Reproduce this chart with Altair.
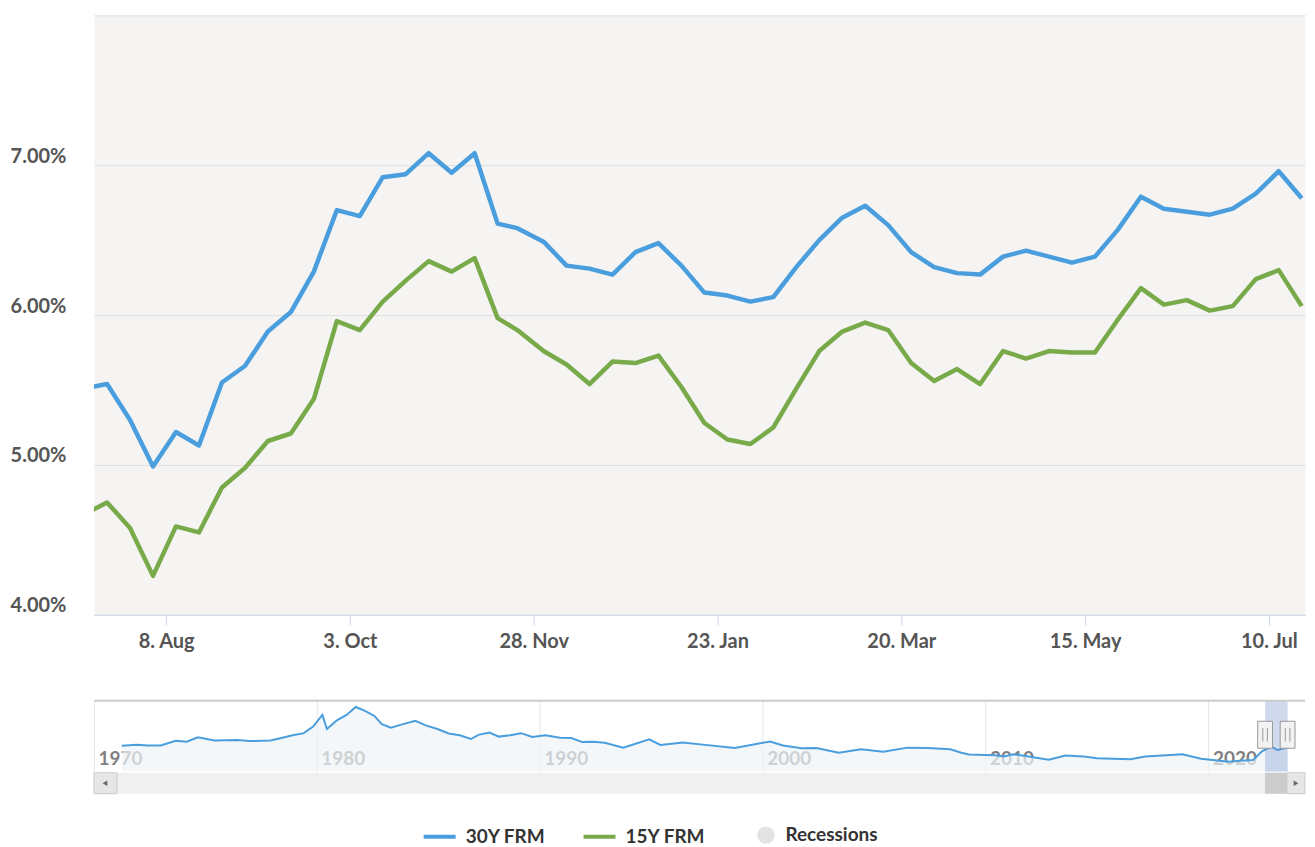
import altair as alt
import pandas as pd

# ---------------- data ----------------
week_dates = [
    "2022-07-14", "2022-07-21", "2022-07-28", "2022-08-04", "2022-08-11", "2022-08-18",
    "2022-08-25", "2022-09-01", "2022-09-08", "2022-09-15", "2022-09-22", "2022-09-29",
    "2022-10-06", "2022-10-13", "2022-10-20", "2022-10-27", "2022-11-03", "2022-11-10",
    "2022-11-17", "2022-11-23", "2022-12-01", "2022-12-08", "2022-12-15", "2022-12-22",
    "2022-12-29", "2023-01-05", "2023-01-12", "2023-01-19", "2023-01-26", "2023-02-02",
    "2023-02-09", "2023-02-16", "2023-02-23", "2023-03-02", "2023-03-09", "2023-03-16",
    "2023-03-23", "2023-03-30", "2023-04-06", "2023-04-13", "2023-04-20", "2023-04-27",
    "2023-05-04", "2023-05-11", "2023-05-18", "2023-05-25", "2023-06-01", "2023-06-08",
    "2023-06-15", "2023-06-22", "2023-06-29", "2023-07-06", "2023-07-13", "2023-07-20",
]
rate_30y = [
    5.51, 5.54, 5.30, 4.99, 5.22, 5.13, 5.55, 5.66, 5.89, 6.02, 6.29, 6.70,
    6.66, 6.92, 6.94, 7.08, 6.95, 7.08, 6.61, 6.58, 6.49, 6.33, 6.31, 6.27,
    6.42, 6.48, 6.33, 6.15, 6.13, 6.09, 6.12, 6.32, 6.50, 6.65, 6.73, 6.60,
    6.42, 6.32, 6.28, 6.27, 6.39, 6.43, 6.39, 6.35, 6.39, 6.57, 6.79, 6.71,
    6.69, 6.67, 6.71, 6.81, 6.96, 6.78,
]
rate_15y = [
    4.67, 4.75, 4.58, 4.26, 4.59, 4.55, 4.85, 4.98, 5.16, 5.21, 5.44, 5.96,
    5.90, 6.09, 6.23, 6.36, 6.29, 6.38, 5.98, 5.90, 5.76, 5.67, 5.54, 5.69,
    5.68, 5.73, 5.52, 5.28, 5.17, 5.14, 5.25, 5.51, 5.76, 5.89, 5.95, 5.90,
    5.68, 5.56, 5.64, 5.54, 5.76, 5.71, 5.76, 5.75, 5.75, 5.97, 6.18, 6.07,
    6.10, 6.03, 6.06, 6.24, 6.30, 6.06,
]
series_names = ["30Y FRM", "15Y FRM"]
series_colors = ["#4a9ede", "#78aa4a"]
recession_names = ["Recessions"]
recession_colors = ["#e3e3e3"]

x_ticks = [(2022, 8, 8), (2022, 10, 3), (2022, 11, 28), (2023, 1, 23),
           (2023, 3, 20), (2023, 5, 15), (2023, 7, 10)]
y_ticks = [4, 5, 6, 7, 8]

# long-run 30Y series shown in the navigator
nav_dates = [
    "1971-04-01", "1971-12-01", "1972-06-01", "1973-01-01", "1973-09-01", "1974-03-01",
    "1974-09-01", "1975-06-01", "1976-06-01", "1977-01-01", "1977-12-01", "1978-06-01",
    "1978-12-01", "1979-06-01", "1979-11-01", "1980-04-01", "1980-06-15", "1980-12-01",
    "1981-05-01", "1981-10-01", "1982-03-01", "1982-08-01", "1982-12-01", "1983-05-01",
    "1983-10-01", "1984-06-01", "1984-12-01", "1985-06-01", "1985-12-01", "1986-06-01",
    "1986-12-01", "1987-04-01", "1987-10-01", "1988-03-01", "1988-09-01", "1989-03-01",
    "1989-09-01", "1990-04-01", "1990-12-01", "1991-06-01", "1991-12-01", "1992-06-01",
    "1992-12-01", "1993-10-01", "1994-12-01", "1995-06-01", "1996-06-01", "1997-06-01",
    "1998-10-01", "1999-06-01", "2000-05-01", "2000-12-01", "2001-10-01", "2002-06-01",
    "2003-06-01", "2004-06-01", "2005-06-01", "2006-07-01", "2007-06-01", "2008-06-01",
    "2008-12-01", "2009-04-01", "2010-06-01", "2010-11-01", "2011-04-01", "2012-11-01",
    "2013-08-01", "2014-06-01", "2015-01-01", "2016-07-01", "2017-03-01", "2018-11-01",
    "2019-09-01", "2020-12-01", "2021-06-01", "2022-01-01", "2022-06-01", "2022-10-27",
    "2023-02-02", "2023-07-20",
]
nav_rate = [
    7.33, 7.6, 7.4, 7.4, 8.8, 8.5,
    9.8, 8.9, 9.0, 8.7, 8.9, 9.6,
    10.4, 11.0, 12.9, 16.3, 12.2, 14.8,
    16.3, 18.6, 17.5, 16.0, 13.6, 12.6,
    13.4, 14.6, 13.2, 12.2, 10.9, 10.4,
    9.3, 10.5, 11.2, 10.0, 10.4, 11.0,
    9.9, 10.4, 9.7, 9.6, 8.4, 8.5,
    8.2, 6.8, 9.2, 7.6, 8.3, 7.6,
    6.7, 7.5, 8.6, 7.4, 6.6, 6.7,
    5.3, 6.3, 5.6, 6.8, 6.7, 6.3,
    5.3, 4.8, 4.6, 4.2, 4.9, 3.3,
    4.5, 4.2, 3.7, 3.4, 4.2, 4.9,
    3.6, 2.7, 3.0, 3.2, 5.8, 7.1,
    6.1, 6.8,
]
nav_decades = [1970, 1980, 1990, 2000, 2010, 2020]
range_start = "2022-07-17"
range_end = "2023-07-21"

# ---------------- frames ----------------
df = pd.DataFrame({
    "date": week_dates * 2,
    "rate": rate_30y + rate_15y,
    "series": ["30Y FRM"] * len(week_dates) + ["15Y FRM"] * len(week_dates),
})
rec_df = pd.DataFrame({"date": [range_start], "rate": [6.0], "kind": recession_names})
nav_df = pd.DataFrame({"date": nav_dates, "rate": nav_rate})
range_df = pd.DataFrame({"start": [range_start], "end": [range_end]})
handle_df = pd.DataFrame({"hdate": [range_start, range_end]})

W = 1212
H = 600
NAV_H = 71
FONT = "Lato"
LABEL = "#555555"
FS = 20
LFS = 19

x_main = alt.X("date:T",
               scale=alt.Scale(domain=[alt.DateTime(year=2022, month=7, date=17, utc=True),
                                       alt.DateTime(year=2023, month=7, date=21, utc=True)]),
               axis=alt.Axis(values=[alt.DateTime(year=y, month=m, date=d, utc=True) for y, m, d in x_ticks],
                             labelExpr="utcFormat(datum.value, '%-d. %b')", grid=False,
                             domainColor="#ccd6eb", tickColor="#ccd6eb", tickSize=10,
                             labelPadding=7, labelFontSize=FS, labelFontWeight="bold",
                             labelColor=LABEL, labelFont=FONT, labelFlush=False, title=None))
y_main = alt.Y("rate:Q",
               scale=alt.Scale(domain=[4, 8], nice=False, zero=False),
               axis=alt.Axis(values=y_ticks,
                             labelExpr="datum.value == 8 ? '' : format(datum.value, '.2f') + '%'",
                             grid=True, gridColor="#e0e0e0", domain=False, ticks=False, tickSize=0,
                             labelPadding=28, labelOffset=-9, labelFontSize=FS, labelFontWeight="bold",
                             labelColor=LABEL, labelFont=FONT, labelFlush=False, title=None))

lines = alt.Chart(df).mark_line(strokeWidth=4.5, clip=True, strokeJoin="round").encode(
    x=x_main, y=y_main,
    color=alt.Color("series:N",
                    scale=alt.Scale(domain=series_names, range=series_colors),
                    legend=alt.Legend(orient="none", legendX=328, legendY=804, direction="horizontal",
                                      title=None, labelFontSize=LFS, labelFontWeight="bold",
                                      labelColor="#333333", labelFont=FONT, labelOffset=8,
                                      columnPadding=30, symbolType="stroke", symbolSize=1024,
                                      symbolStrokeWidth=4)),
)

# recessions: no recession falls in this window, only the legend entry is shown
recessions = alt.Chart(rec_df).transform_filter("false").mark_circle(size=300, opacity=1).encode(
    x="date:T", y="rate:Q",
    fill=alt.Fill("kind:N",
                  scale=alt.Scale(domain=recession_names, range=recession_colors),
                  legend=alt.Legend(orient="none", legendX=663, legendY=811, direction="horizontal",
                                    title=None, labelFontSize=LFS, labelFontWeight="bold",
                                    labelColor="#333333", labelFont=FONT, labelOffset=10,
                                    symbolType="circle", symbolSize=300, symbolOpacity=1,
                                    symbolStrokeColor="transparent")),
)

main = alt.layer(lines, recessions).properties(
    width=W, height=H, view=alt.ViewBackground(fill="#f5f4f3", stroke="transparent"))

nav_x = alt.X("date:T",
              scale=alt.Scale(domain=[alt.DateTime(year=1970, month=1, date=1, utc=True),
                                      alt.DateTime(year=2024, month=5, date=1, utc=True)]),
              axis=alt.Axis(values=[alt.DateTime(year=y, month=1, date=1, utc=True) for y in nav_decades],
                            labelExpr="utcFormat(datum.value, '%Y')", grid=True, gridColor="#e6e6e6",
                            domain=False, ticks=False, tickSize=0, labelAlign="left",
                            labelBaseline="alphabetic", labelPadding=-7, labelOffset=4,
                            labelFontSize=19, labelFontWeight="bold", labelColor="#808080",
                            labelFont=FONT, labelFlush=False, title=None))

nav_outline = alt.Chart(range_df).mark_rule(color="#cccccc", strokeWidth=2).encode(
    x=alt.value(0), x2=alt.value(W), y=alt.value(0))

nav_area = alt.Chart(nav_df).mark_area(
    color="#eef3f7", line=alt.OverlayMarkDef(color="#4a9ede", strokeWidth=2), clip=True
).encode(
    x=nav_x,
    y=alt.Y("rate:Q", scale=alt.Scale(domain=[-0.2, 20.4], nice=False, zero=False), axis=None),
)

nav_mask = alt.Chart(range_df).mark_rect(color="#6685c2", opacity=0.3).encode(
    x="start:T", x2="end:T", y=alt.value(0), y2=alt.value(NAV_H))

track = alt.Chart(range_df).mark_rect(color="#f0f0f0").encode(
    x=alt.value(0), x2=alt.value(W), y=alt.value(NAV_H + 1), y2=alt.value(NAV_H + 22))
thumb = alt.Chart(range_df).mark_rect(color="#cccccc").encode(
    x="start:T", x2="end:T", y=alt.value(NAV_H + 1), y2=alt.value(NAV_H + 22))
btn_left = alt.Chart(range_df).mark_rect(color="#e6e6e6", stroke="#cccccc", strokeWidth=1).encode(
    x=alt.value(0), x2=alt.value(23), y=alt.value(NAV_H + 1), y2=alt.value(NAV_H + 22))
btn_right = alt.Chart(range_df).mark_rect(color="#e6e6e6", stroke="#cccccc", strokeWidth=1).encode(
    x=alt.value(W - 18), x2=alt.value(W), y=alt.value(NAV_H + 1), y2=alt.value(NAV_H + 22))
arrow_left = alt.Chart(range_df).mark_point(shape="triangle-left", filled=True, color="#333333", size=30).encode(
    x=alt.value(11), y=alt.value(NAV_H + 11.5))
arrow_right = alt.Chart(range_df).mark_point(shape="triangle-right", filled=True, color="#333333", size=30).encode(
    x=alt.value(W - 9), y=alt.value(NAV_H + 11.5))

handles = alt.Chart(handle_df).mark_point(
    shape="M-0.55,-1H0.55V1H-0.55Z", filled=True, fill="#f2f2f2", stroke="#999999",
    strokeWidth=1, opacity=1, size=729
).encode(x="hdate:T", y=alt.value(34))
grips = alt.Chart(handle_df).mark_point(
    shape="M-0.17,-0.5V0.5M0.17,-0.5V0.5", filled=False, stroke="#999999",
    strokeWidth=1, opacity=1, size=729
).encode(x="hdate:T", y=alt.value(34))

nav = alt.layer(
    nav_area, nav_mask, nav_outline, track, thumb, btn_left, btn_right,
    arrow_left, arrow_right, handles, grips
).properties(width=W, height=NAV_H, view=alt.ViewBackground(fill="white", stroke="transparent"))

chart = alt.vconcat(main, nav, spacing=86, bounds="flush").properties(
    padding={"left": 1, "top": 6, "right": 0, "bottom": 0}
).configure(font=FONT).configure_view(stroke="transparent")

chart.save("out.html", embed_options={"renderer": "svg", "actions": False})
